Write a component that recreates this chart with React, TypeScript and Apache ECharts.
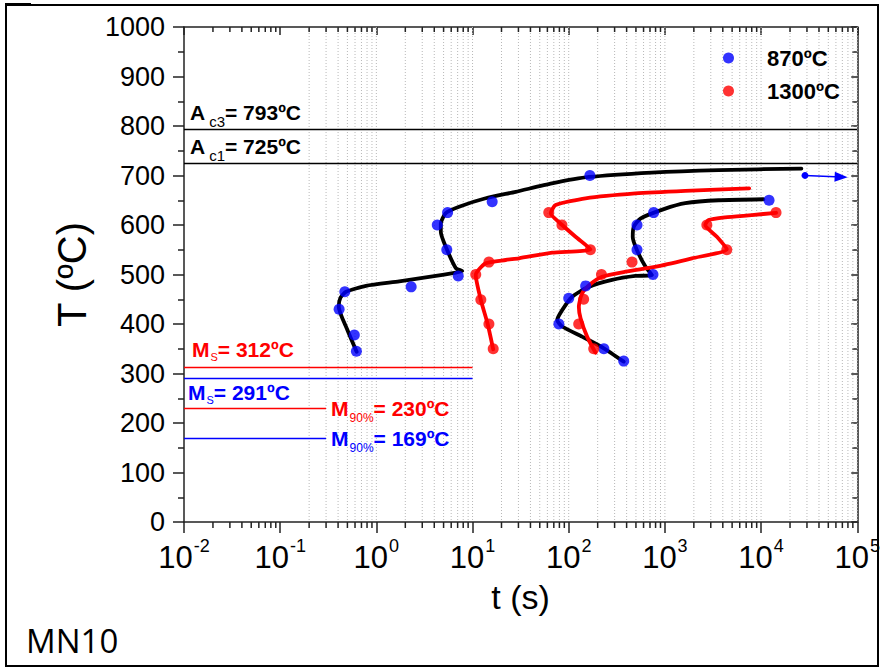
import React, { useEffect, useRef } from "react";
import * as echarts from "echarts";

const FONT = "'Liberation Sans', Arial, sans-serif";
const BLUE = "#0000ff";
const RED = "#ff0000";

// Axis ranges and tick layout
const T_MIN = 0.01;
const T_MAX = 1e5;
const TEMP_MIN = 0;
const TEMP_MAX = 1000;
const TEMP_STEP = 100;
const decades = [0.01, 0.1, 1, 10, 100, 1000, 10000, 100000];
const minorMultipliers = [2, 3, 4, 5, 6, 7, 8, 9];
const gridStart = 0.2;

// Measured transformation points [t (s), T (°C)]
const points870: [number, number][] = [
  [0.62, 345], [0.59, 378], [0.41, 430], [0.47, 465], [2.3, 475], [7.1, 497],
  [5.4, 550], [4.3, 600], [5.5, 625], [16, 647], [166, 700],
  [373, 325], [232, 350], [79, 400], [100, 452], [150, 477], [752, 500],
  [513, 550], [513, 600], [764, 625], [12100, 650],
];
const points1300: [number, number][] = [
  [16.4, 350], [14.8, 400], [12.2, 449], [10.8, 500], [14.8, 525], [168, 550],
  [85, 600], [62, 625],
  [182, 350], [127, 400], [143, 450], [219, 500], [455, 525], [4400, 550],
  [2730, 600], [14300, 625],
];

// Fitted transformation curves [t (s), T (°C)]
const fit870a: [number, number][] = [
  [0.624, 344], [0.5, 388], [0.406, 435], [0.423, 453], [0.484, 465], [0.78, 477],
  [1.73, 486], [3.83, 496], [6.7, 504], [7.83, 507], [6.7, 513], [5.27, 556],
  [4.68, 586], [4.68, 603], [5.27, 624], [7.25, 637], [13.7, 654], [28.1, 667],
  [66.8, 684], [162, 697], [729, 706], [3614, 711], [26240, 714],
];
const fit870b: [number, number][] = [
  [373, 324], [232, 351], [137.7, 374.5], [85.5, 395], [75.9, 408], [85.5, 428],
  [108.7, 455], [161.8, 475], [282.5, 489], [493, 497], [733, 499], [627, 516],
  [513, 549], [463, 576], [474, 596], [556, 613], [975, 632], [1630, 644],
  [3614, 650], [10570, 652],
];
const fit1300a: [number, number][] = [
  [16.4, 349], [14.3, 401.5], [12.2, 448.6], [10.8, 499], [13.7, 522.6], [22.1, 529.3],
  [30.4, 532.7], [67.3, 544], [168.5, 550.8], [117.8, 576.3], [85.5, 600], [64.9, 623.5],
  [73, 640.2], [149.6, 653.8], [493, 663.8], [1630, 669.1], [7516, 674],
];
const fit1300b: [number, number][] = [
  [189.7, 342], [155.3, 374.5], [132.8, 411.6], [127.4, 435], [137.7, 462],
  [168.5, 480.8], [222, 495.6], [389, 505.7], [861, 517], [1910, 532.7], [4405, 550.8],
  [3467, 576.3], [2630, 600], [2844, 610], [4236, 615.4], [8000, 620], [14320, 624.7],
];

// Arrow marking the untransformed region beyond the last measurement
const arrowFrom: [number, number] = [28600, 700];
const arrowTo: [number, number] = [68000, 697];

// Critical temperatures (°C)
const AC3 = 793;
const AC1 = 725;
const MS_1300 = 312;
const MS_870 = 291;
const M90_1300 = 230;
const M90_870 = 169;
const MS_END_T = 10;
const M90_END_T = 0.3;

const tickTimes: [number, number][] = [];
decades.forEach((d, i) => {
  tickTimes.push([d, 1]);
  if (i < decades.length - 1) {
    minorMultipliers.forEach((m) => tickTimes.push([+(m * d).toPrecision(3), 0]));
  }
});

const mainText = (size: number, weight: string = "bold") => ({
  fontFamily: FONT,
  fontSize: size,
  fontWeight: weight,
  lineHeight: size,
  verticalAlign: "top",
});
const subText = (size: number, drop: number, left = 1) => ({
  fontFamily: FONT,
  fontSize: size,
  fontWeight: "normal",
  lineHeight: size,
  verticalAlign: "top",
  padding: [drop, 0, 0, left],
});

function lineLabel(text: string, color: string, position: string, distance: number, sub: any) {
  return {
    show: true,
    position,
    distance,
    formatter: text,
    color,
    rich: {
      m: { ...mainText(21), color },
      s: { ...sub, color },
    },
  };
}

const axisLineStyle = { color: "#222", width: 1.5 };

function buildOption(): any {
  return {
    animation: false,
    backgroundColor: "#fff",
    textStyle: { fontFamily: FONT },
    grid: { left: 184, right: 24, top: 27, bottom: 146, containLabel: false },
    legend: {
      data: ["870ºC", "1300ºC"],
      orient: "vertical",
      left: 718,
      top: 42,
      itemWidth: 11,
      itemHeight: 11,
      itemGap: 11,
      icon: "circle",
      selectedMode: false,
      textStyle: {
        fontFamily: FONT,
        fontSize: 22,
        fontWeight: "bold",
        color: "#000",
        padding: [0, 0, 0, 28],
      },
    },
    xAxis: [
      {
        type: "log",
        logBase: 10,
        min: T_MIN,
        max: T_MAX,
        splitNumber: 7,
        name: "t (s)",
        nameLocation: "middle",
        nameGap: 58,
        nameTextStyle: { fontFamily: FONT, fontSize: 34, color: "#000" },
        axisLine: { show: true, onZero: false, lineStyle: axisLineStyle },
        axisTick: { show: true, length: 11, lineStyle: axisLineStyle },
        splitLine: { show: false },
        axisLabel: {
          margin: 12,
          color: "#000",
          formatter: (v: number) => `{b|10}{s|${Math.round(Math.log10(v))}}`,
          rich: {
            b: { ...mainText(31, "normal"), padding: [8, 0, 0, 0], color: "#000" },
            s: { ...mainText(18, "normal"), padding: [3, 0, 0, 1], color: "#000" },
          },
        },
      },
      {
        type: "log",
        logBase: 10,
        min: T_MIN,
        max: T_MAX,
        splitNumber: 7,
        position: "top",
        axisLine: { show: true, onZero: false, lineStyle: axisLineStyle },
        axisTick: { show: true, inside: true, length: 8, lineStyle: axisLineStyle },
        axisLabel: { show: false },
        splitLine: { show: false },
      },
    ],
    yAxis: [
      {
        type: "value",
        min: TEMP_MIN,
        max: TEMP_MAX,
        interval: TEMP_STEP,
        name: "T (ºC)",
        nameLocation: "middle",
        nameGap: 92,
        nameTextStyle: { fontFamily: FONT, fontSize: 40, color: "#000" },
        axisLine: { show: true, onZero: false, lineStyle: axisLineStyle },
        axisTick: { show: true, length: 11, lineStyle: axisLineStyle },
        minorTick: { show: true, splitNumber: 2, length: 6, lineStyle: axisLineStyle },
        splitLine: { show: false },
        axisLabel: {
          margin: 19,
          fontFamily: FONT,
          fontSize: 27,
          color: "#000",
          formatter: (v: number) => String(v),
        },
      },
      {
        type: "value",
        min: TEMP_MIN,
        max: TEMP_MAX,
        interval: TEMP_STEP,
        position: "right",
        axisLine: { show: true, onZero: false, lineStyle: axisLineStyle },
        axisTick: { show: true, inside: true, length: 6, lineStyle: axisLineStyle },
        minorTick: { show: true, splitNumber: 2, length: 5, lineStyle: axisLineStyle },
        axisLabel: { show: false },
        splitLine: { show: false },
      },
    ],
    series: [
      {
        // dotted time grid and the logarithmic minor ticks on both time axes
        type: "custom",
        silent: true,
        z: 1,
        clip: false,
        data: tickTimes,
        encode: { x: 0 },
        renderItem: (_p: any, api: any) => {
          const t = api.value(0);
          const major = api.value(1) === 1;
          const b = api.coord([t, TEMP_MIN]);
          const top = api.coord([t, TEMP_MAX]);
          const children: any[] = [];
          if (t >= gridStart) {
            children.push({
              type: "line",
              shape: { x1: b[0], y1: top[1], x2: b[0], y2: b[1] },
              style: { stroke: "#b8b8b8", lineWidth: 1, lineDash: [1, 2] },
            });
          }
          if (!major) {
            children.push({
              type: "line",
              shape: { x1: b[0], y1: b[1], x2: b[0], y2: b[1] + 6 },
              style: { stroke: "#222", lineWidth: 1.5 },
            });
            children.push({
              type: "line",
              shape: { x1: b[0], y1: top[1], x2: b[0], y2: top[1] + 5 },
              style: { stroke: "#222", lineWidth: 1.5 },
            });
          }
          return { type: "group", children };
        },
      },
      {
        type: "line",
        data: [],
        z: 2,
        silent: true,
        markLine: {
          silent: true,
          symbol: "none",
          animation: false,
          lineStyle: { color: "#000", width: 1.3, type: "solid" },
          data: [
            {
              yAxis: AC3,
              label: lineLabel(`{m|A}{s|c3}{m|= ${AC3}ºC}`, "#000", "insideStartTop", 6, subText(15, 12, 4)),
            },
            {
              yAxis: AC1,
              label: lineLabel(`{m|A}{s|c1}{m|= ${AC1}ºC}`, "#000", "insideStartTop", 6, subText(15, 12, 4)),
            },
            [
              {
                coord: [T_MIN, MS_1300],
                lineStyle: { color: RED, width: 1.3 },
                label: lineLabel(`{m|M}{s|S}{m|= ${MS_1300}ºC}`, RED, "insideStartTop", 8, subText(11, 13, 1)),
              },
              { coord: [MS_END_T, MS_1300] },
            ],
            [
              {
                coord: [T_MIN, MS_870],
                lineStyle: { color: BLUE, width: 1.3 },
                label: lineLabel(`{m|M}{s|S}{m|= ${MS_870}ºC}`, BLUE, "insideStartBottom", 4, subText(11, 13, 1)),
              },
              { coord: [MS_END_T, MS_870] },
            ],
            [
              {
                coord: [T_MIN, M90_1300],
                lineStyle: { color: RED, width: 1.3 },
                label: lineLabel(`{m|M}{s|90%}{m|= ${M90_1300}ºC}`, RED, "end", 5, subText(12, 14, 1)),
              },
              { coord: [M90_END_T, M90_1300] },
            ],
            [
              {
                coord: [T_MIN, M90_870],
                lineStyle: { color: BLUE, width: 1.3 },
                label: lineLabel(`{m|M}{s|90%}{m|= ${M90_870}ºC}`, BLUE, "end", 5, subText(12, 14, 1)),
              },
              { coord: [M90_END_T, M90_870] },
            ],
          ],
        },
      },
      ...[
        { data: fit870a, color: "#000" },
        { data: fit870b, color: "#000" },
        { data: fit1300a, color: RED },
        { data: fit1300b, color: RED },
      ].map((c) => ({
        type: "line",
        data: c.data,
        z: 3,
        silent: true,
        showSymbol: false,
        symbol: "none",
        smooth: 0.2,
        lineStyle: { color: c.color, width: 3.8, cap: "round", join: "round" },
      })),
      {
        name: "870ºC",
        type: "scatter",
        data: points870,
        z: 4,
        symbol: "circle",
        symbolSize: 11,
        itemStyle: { color: BLUE },
        markLine: {
          silent: true,
          animation: false,
          lineStyle: { color: BLUE, width: 1.5, type: "solid" },
          label: { show: false },
          data: [
            [
              { coord: arrowFrom, symbol: "circle", symbolSize: 7 },
              { coord: arrowTo, symbol: "triangle", symbolSize: [10, 13] },
            ],
          ],
        },
      },
      {
        name: "1300ºC",
        type: "scatter",
        data: points1300,
        z: 4,
        symbol: "circle",
        symbolSize: 11,
        itemStyle: { color: RED },
      },
    ],
    graphic: [
      {
        type: "rect",
        silent: true,
        shape: { x: 6, y: 5, width: 872, height: 661 },
        style: { fill: "none", stroke: "#000", lineWidth: 2 },
      },
      {
        type: "rect",
        silent: true,
        shape: { x: 5, y: 3, width: 26, height: 3 },
        style: { fill: "#000" },
      },
      {
        type: "text",
        left: 26,
        top: 624,
        style: { text: "MN10", font: "33px 'Open Sans', sans-serif", fill: "#000" },
      },
    ],
  };
}

export default function App() {
  const ref = useRef<HTMLDivElement>(null);
  useEffect(() => {
    if (!ref.current) return;
    const chart = echarts.init(ref.current, null, { renderer: "svg" });
    chart.setOption(buildOption());
    return () => chart.dispose();
  }, []);
  return (
    <div
      ref={ref}
      style={{ position: "fixed", left: 0, top: 0, width: 883, height: 668, background: "#fff" }}
    />
  );
}
